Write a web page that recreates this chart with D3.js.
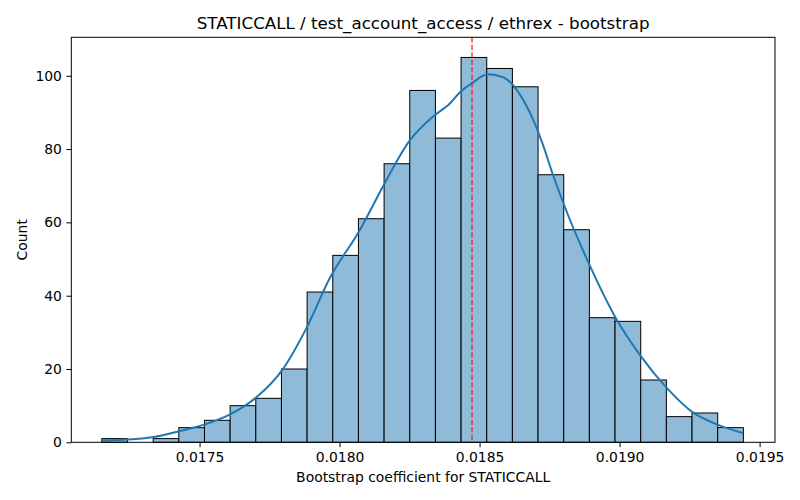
<!DOCTYPE html>
<html>
<head>
<meta charset="utf-8">
<script src="https://cdn.jsdelivr.net/npm/d3@7/dist/d3.min.js"></script>
<style>
  body { margin: 0; background: #fff; }
  svg { font-family: "DejaVu Sans", sans-serif; }
</style>
</head>
<body>
<svg id="chart" width="800" height="500"></svg>
<script>
// ---- data ----
const binStart = 0.017151;
const binEnd = 0.019442;
const binCounts = [1, 0, 1, 4, 6, 10, 12, 20, 41, 51, 61, 76, 96, 83, 105, 102, 97, 73, 58, 34, 33, 17, 7, 8, 4];
const kdeX = [0.017152, 0.017262, 0.017341, 0.017430, 0.017520, 0.017609, 0.017705, 0.017795, 0.017884, 0.017963,
              0.018073, 0.018155, 0.018252, 0.018334, 0.018395, 0.018430, 0.018473, 0.018530, 0.018584, 0.018609,
              0.018655, 0.018705, 0.018727, 0.018762, 0.018798, 0.018895, 0.018991, 0.019073, 0.019170, 0.019259,
              0.019348, 0.019441];
const kdeY = [0.5, 0.8, 1.5, 3.1, 4.9, 7.6, 12.4, 19.7, 31.5, 44.5,
              58, 69.8, 82.5, 88.9, 92.5, 95.5, 98, 100.4, 99.6, 98.3,
              93.5, 85.5, 81, 73, 65.5, 48, 33.3, 23.8, 14.7, 8.3,
              4.9, 2.5];
const meanValue = 0.018473;
const xTicks = [0.0175, 0.0180, 0.0185, 0.0190, 0.0195];
const yTicks = [0, 20, 40, 60, 80, 100];
const titleText = "STATICCALL / test_account_access / ethrex - bootstrap";
const xLabel = "Bootstrap coefficient for STATICCALL";
const yLabel = "Count";

// ---- layout ----
const mL = 71.3, mR = 775, mT = 37.3, mB = 442.3;
const svg = d3.select("#chart");

const x = d3.scaleLinear().domain([0.017042, 0.019555]).range([mL, mR]);
const y = d3.scaleLinear().domain([0, 110.5]).range([mB, mT]);

const nb = binCounts.length;
const edges = d3.range(nb + 1).map(i => binStart + (binEnd - binStart) * i / nb);
const bins = binCounts.map((c, i) => ({ x0: edges[i], x1: edges[i + 1], c }));

// bars
svg.append("g").selectAll("rect").data(bins).join("rect")
  .attr("x", d => x(d.x0))
  .attr("y", d => y(d.c))
  .attr("width", d => x(d.x1) - x(d.x0))
  .attr("height", d => y(0) - y(d.c))
  .attr("fill", "#8fbbd9")
  .attr("stroke", "#000")
  .attr("stroke-width", 1);

// kde line
const kde = kdeX.map((v, i) => [v, kdeY[i]]);
svg.append("path").datum(kde)
  .attr("d", d3.line().x(d => x(d[0])).y(d => y(d[1])).curve(d3.curveMonotoneX))
  .attr("fill", "none")
  .attr("stroke", "#1f77b4")
  .attr("stroke-width", 2);

// mean line
svg.append("line")
  .attr("x1", x(meanValue)).attr("x2", x(meanValue))
  .attr("y1", mT).attr("y2", mB)
  .attr("stroke", "red").attr("stroke-opacity", 0.8)
  .attr("stroke-width", 1.4)
  .attr("stroke-dasharray", "5.2,2.3");

// spines
svg.append("rect")
  .attr("x", mL).attr("y", mT)
  .attr("width", mR - mL).attr("height", mB - mT)
  .attr("fill", "none").attr("stroke", "#000").attr("stroke-width", 1);

// axes
const xAxis = d3.axisBottom(x).tickValues(xTicks).tickFormat(d3.format(".4f")).tickSizeOuter(0).tickSize(4.9).tickPadding(4.5);
const gx = svg.append("g").attr("transform", `translate(0,${mB})`).call(xAxis);
gx.select(".domain").remove();
gx.selectAll("text").attr("font-size", "13.9px").attr("fill", "#000").attr("font-family", "DejaVu Sans");
gx.selectAll("line").attr("stroke", "#000");

const yAxis = d3.axisLeft(y).tickValues(yTicks).tickFormat(d3.format("d")).tickSizeOuter(0).tickSize(4.9).tickPadding(4.5);
const gy = svg.append("g").attr("transform", `translate(${mL},0)`).call(yAxis);
gy.select(".domain").remove();
gy.selectAll("text").attr("font-size", "13.9px").attr("fill", "#000").attr("font-family", "DejaVu Sans");
gy.selectAll("line").attr("stroke", "#000");

// title and labels
svg.append("text")
  .attr("x", (mL + mR) / 2).attr("y", 29)
  .attr("text-anchor", "middle")
  .attr("font-size", "16.7px")
  .text(titleText);

svg.append("text")
  .attr("x", (mL + mR) / 2).attr("y", 482)
  .attr("text-anchor", "middle")
  .attr("font-size", "13.9px")
  .text(xLabel);

svg.append("text")
  .attr("transform", `translate(27,${(mT + mB) / 2}) rotate(-90)`)
  .attr("text-anchor", "middle")
  .attr("font-size", "13.9px")
  .text(yLabel);
</script>
</body>
</html>
